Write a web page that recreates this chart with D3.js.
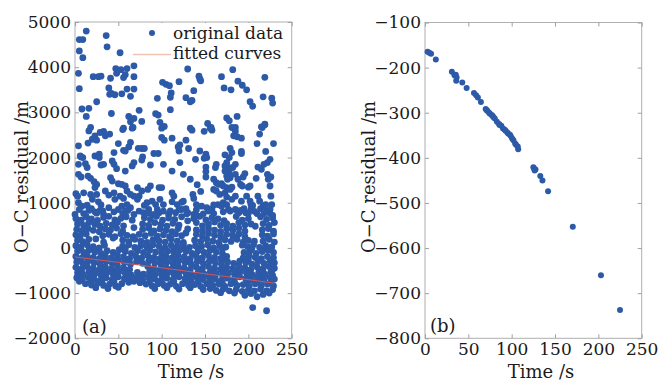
<!DOCTYPE html>
<html>
<head>
<meta charset="utf-8">
<script src="https://cdn.jsdelivr.net/npm/d3@7"></script>
<style>
  body { margin: 0; background: #fff; }
  svg text { font-family: "DejaVu Serif", serif; fill: #1a1a1a; }
</style>
</head>
<body>
<svg id="chart" width="662" height="382"></svg>
<script>
// ---- data ----
var xTicks = [0, 50, 100, 150, 200, 250];
var yTicksA = [-2000, -1000, 0, 1000, 2000, 3000, 4000, 5000];
var yTicksB = [-800, -700, -600, -500, -400, -300, -200, -100];

// panel (a): [time s, residual m]
var aHigh = [
  [13,4800],[36,4700],[90,4760],[5,4610],[9,4610],[37,4450],[5,4360],[52,4320],[9,4210],[68,4030],
  [47,3970],[53,3945],[60,3970],[4,3865],[48,3865],[58,3835],[21,3790],[27,3790],[30,3800],[41,3755],
  [56,3770],[68,3790],[101,3665],[105,3620],[109,3590],[120,3680],[5,3525],[39,3540],[60,3515],[68,3515],
  [42,3420],[46,3390],[40,3400],[54,3410],[111,3430],[110,3335],[64,3355],[95,3310],[25,3235],[8,3075],
  [16,3090],[74,3045],[110,3060],[42,2975],[93,2970],[96,2940],[13,2910],[62,2910],[68,2865],[77,2800],
  [64,2790],[98,2780],[103,2690],[18,2665],[56,2650],[67,2665],
  [130,3960],[182,3945],[143,3800],[145,3700],[169,3790],[188,3690],[193,3600],[198,3500],[219,3775],[172,3540],
  [180,3500],[137,3480],[128,3325],[133,3235],[135,3265],[202,3235],[205,3135],[217,3345],[227,3315],[228,3205],
  [175,2875],[178,2815],[187,2910],[153,2755],[157,2665],[219,2740],[216,2665],[133,2650],[181,2665],[144,3740]
];
var aMid = [
  [16,2590],[29,2555],[33,2580],[35,2480],[23,2480],[20,2405],[25,2385],[40,2520],[15,2320],[4,2260],
  [55,2620],[66,2650],[100,2650],[100,2445],[103,2385],[112,2430],[50,2310],[64,2335],[62,2235],[73,2205],
  [77,2200],[80,2200],[91,2090],[96,2090],[119,2235],[121,2280],[120,2145],[7,2015],[23,2035],[28,2075],
  [45,2110],[56,2160],[58,2145],[78,2015],[77,1945],[30,1835],[43,1925],[45,1850],[4,1850],[12,1865],
  [14,1780],[68,1890],[66,1815],[48,1755],[58,1700],[87,1835],[102,1850],[112,1700],[121,1890],[125,1630],
  [4,1630],[7,1570],[15,1590],[18,1540],[22,1465],[25,1405],[23,1335],[41,1555],[43,1480],[50,1420],
  [54,1405],[58,1370],[72,1335],[77,1260],[87,1370],[84,1295],[97,1335],[100,1335],[112,1220],[114,1145],
  [1,1200],[3,1145],[10,1220],[18,1185],[20,1075],[25,1185],[27,1020],[35,1260],[39,1170],[45,1220],
  [46,1075],[52,1145],[56,1095],[60,1260],[64,1185],[68,1145],[72,1075],[74,1145],[83,1000],[89,1035],
  [93,960],[98,1075],[102,960],[112,1020],[118,960],[123,1010],[4,1000],[8,925],[14,945],[16,830],
  [23,800],[29,830],[33,740],[39,890],[45,800],[50,850],[54,925],[58,815],[64,890],[68,740],
  [74,815],[79,780],[85,850],[91,740],[97,780],[102,815],[108,740],[116,780],[120,850],[0,740],
  [135,2605],[149,2580],[158,2605],[156,2650],[185,2665],[185,2580],[215,2680],[219,2725],[128,2385],[187,2460],
  [183,2480],[192,2430],[213,2520],[210,2310],[229,2310],[144,2145],[151,2075],[152,2000],[149,1985],[179,2205],
  [181,2110],[178,2000],[173,2060],[192,2135],[192,2090],[220,2135],[225,1960],[222,1890],[163,1850],[162,1780],
  [175,1890],[173,1815],[177,1780],[185,1850],[182,1780],[151,1790],[151,1690],[151,1570],[211,1790],[215,1740],
  [218,1850],[222,1630],[226,1570],[223,1520],[225,1370],[209,1540],[173,1700],[178,1665],[175,1590],[179,1555],
  [176,1520],[185,1630],[188,1520],[196,1645],[194,1570],[160,1520],[163,1445],[166,1405],[169,1420],[171,1370],
  [175,1335],[179,1295],[181,1345],[191,1405],[193,1370],[200,1345],[202,1370],[160,1295],[163,1260],[167,1185],
  [173,1220],[175,1125],[136,1185],[137,1095],[125,1035],[181,1075],[185,1145],[192,1035],[198,1145],[202,1035],
  [211,1145],[213,1035],[217,925],[226,1145],[227,960],[225,850],[146,925],[152,890],[154,815],[148,755],
  [165,960],[169,925],[171,1000],[175,960],[177,850],[179,815],[171,800],[185,850],[189,780],[195,870],
  [197,780],[203,960],[203,850],[207,810],[210,760],[225,760],[228,720],[123,850],[129,755],[137,740],
  [142,705],[131,2200],[139,1960],[133,1520],[141,1400],[145,1250],[6,2035],[9,2000],[28,2000],[33,1850],
  [5,850],[19,870],[32,820],[61,830],[95,850],[110,820],[128,870],[140,840],[158,860],[191,830],[214,870],[221,820],
  [10,760],[25,770],[55,760],[85,770],[130,780],[160,760],[200,770],[218,760],
  [30,950],[60,960],[80,940],[140,960],[160,950],[205,940],[220,960]
];
var aDense = [
  [1,650],[7,615],[13,690],[19,640],[26,610],[33,675],[39,700],[46,620],[53,655],[59,690],[66,615],[80,670],
  [87,630],[94,700],[101,615],[108,660],[115,630],[123,690],[130,600],[137,650],[144,700],[151,620],[158,670],
  [165,640],[172,605],[186,695],[193,615],[200,650],[214,690],[221,630],[228,660],
  [3,530],[10,500],[16,560],[23,520],[29,480],[36,545],[43,510],[49,570],[56,490],[78,530],[85,500],[92,560],
  [99,520],[106,480],[113,545],[120,505],[140,560],[147,490],[154,530],[161,575],[168,500],[175,540],[182,480],
  [189,560],[196,510],[203,530],[217,540],[224,500],[230,560],[68,450],[208,480],
  [2,410],[8,380],[15,430],[21,390],[28,360],[35,420],[41,395],[48,440],[55,370],[78,410],[85,440],[91,375],
  [98,420],[105,390],[112,360],[119,430],[140,400],[147,370],[154,430],[161,395],[168,360],[175,425],[182,390],
  [189,440],[196,370],[216,400],[223,430],[229,370],[130,420],[128,330],
  [1,290],[6,260],[13,310],[32,270],[39,300],[46,250],[53,315],[60,280],[67,250],[74,300],[81,270],[88,320],
  [95,260],[102,290],[109,250],[116,310],[123,270],[140,300],[147,260],[154,320],[161,280],[168,250],[175,300],
  [182,270],[189,310],[196,250],[216,290],[222,260],[229,310],[24,200],[44,220],[207,150],
  [3,170],[9,140],[16,190],[33,130],[55,175],[62,140],[69,190],[76,150],[83,120],[90,180],[97,155],[104,130],
  [111,195],[118,150],[125,120],[138,170],[145,140],[152,195],[159,150],[166,120],[173,180],[180,145],[187,190],
  [194,130],[200,165],[217,150],[224,190],[230,130],
  [1,50],[7,20],[14,70],[21,30],[28,0],[34,60],[55,40],[62,70],[69,10],[76,50],[83,20],[90,70],[97,40],
  [104,0],[111,60],[118,30],[125,70],[132,10],[139,50],[146,30],[153,70],[160,0],[167,45],[174,20],[193,60],
  [199,30],[206,70],[213,10],[220,50],[227,20],
  [5,-15],[18,-25],[58,-20],[72,-30],[86,-15],[100,-25],[114,-10],[128,-30],[142,-15],[156,-25],[170,-20],
  [204,-15],[218,-25],
  [3,-70],[10,-100],[16,-50],[23,-90],[30,-120],[37,-60],[44,-100],[51,-40],[58,-80],[65,-120],[72,-60],
  [79,-100],[86,-50],[93,-90],[100,-120],[107,-70],[114,-100],[121,-40],[128,-80],[135,-120],[142,-60],
  [149,-100],[156,-50],[163,-90],[170,-120],[195,-100],[202,-60],[209,-120],[216,-80],[223,-50],[229,-100],
  [1,-190],[8,-220],[14,-170],[21,-210],[28,-240],[35,-180],[42,-220],[49,-160],[56,-200],[63,-240],[70,-180],
  [77,-220],[84,-170],[91,-210],[98,-240],[105,-190],[112,-220],[119,-160],[126,-200],[133,-240],[140,-180],
  [147,-220],[154,-170],[161,-210],[168,-240],[175,-190],[194,-220],[201,-170],[208,-210],[215,-240],[222,-190],
  [229,-220],
  [5,-255],[19,-265],[33,-250],[47,-270],[61,-255],[75,-265],[89,-250],[103,-270],[117,-255],[131,-265],
  [145,-250],[159,-270],[173,-255],[200,-260],[214,-250],[227,-270],
  [2,-310],[9,-340],[15,-290],[22,-330],[29,-360],[36,-300],[43,-340],[50,-280],[57,-320],[64,-360],[71,-300],
  [78,-340],[85,-290],[92,-330],[99,-360],[106,-310],[113,-340],[120,-280],[127,-320],[134,-360],[141,-300],
  [148,-340],[155,-290],[162,-330],[169,-360],[176,-310],[183,-340],[190,-290],[197,-320],[204,-360],[211,-300],
  [218,-340],[225,-290],[230,-330],
  [1,-430],[8,-460],[14,-410],[21,-450],[28,-480],[35,-420],[42,-460],[49,-400],[56,-440],[63,-480],[84,-410],
  [91,-450],[98,-480],[105,-430],[112,-460],[119,-400],[126,-440],[133,-480],[140,-420],[147,-460],[154,-410],
  [161,-450],[168,-480],[175,-430],[182,-460],[189,-400],[196,-440],[203,-480],[210,-420],[217,-460],[224,-410],
  [230,-450],
  [5,-495],[18,-505],[32,-490],[46,-510],[60,-500],[88,-490],[102,-510],[116,-495],[130,-505],[144,-490],
  [158,-510],[172,-500],[186,-495],[200,-505],[214,-490],[227,-505],
  [3,-550],[9,-580],[16,-530],[23,-570],[30,-600],[37,-540],[44,-580],[51,-520],[58,-560],[65,-600],[72,-540],
  [79,-580],[86,-530],[93,-570],[100,-600],[107,-550],[114,-580],[121,-520],[128,-560],[135,-600],[142,-540],
  [149,-580],[156,-530],[163,-570],[170,-600],[177,-550],[184,-580],[191,-520],[198,-560],[205,-600],[212,-540],
  [219,-580],[226,-530],
  [5,-610],[19,-625],[33,-615],[47,-630],[61,-610],[75,-625],[89,-615],[103,-630],[117,-610],[131,-625],
  [145,-615],[159,-630],[173,-610],[187,-625],[201,-615],[215,-630],[228,-610],
  [2,-660],[8,-700],[15,-650],[22,-690],[29,-720],[36,-660],[43,-700],[50,-640],[57,-680],[64,-720],[71,-660],
  [78,-700],[85,-650],[92,-690],[99,-720],[106,-670],[113,-700],[120,-640],[127,-680],[134,-720],[141,-660],
  [148,-700],[155,-650],[162,-690],[169,-720],[176,-670],[183,-700],[190,-640],[197,-680],[204,-720],[211,-660],
  [218,-700],[225,-650],[230,-690],
  [5,-740],[18,-750],[31,-760],[45,-745],[86,-750],[100,-760],[114,-745],[128,-755],[142,-760],[156,-745],
  [170,-770],[184,-750],[198,-760],[212,-745],[226,-760],
  [12,-790],[19,-820],[26,-780],[33,-830],[40,-800],[47,-840],[54,-790],[62,-760],[68,-740],[75,-770],[82,-800],
  [89,-840],[96,-790],[103,-830],[110,-800],[117,-850],[124,-790],[131,-830],[138,-810],[145,-850],[152,-790],
  [159,-830],[166,-800],[173,-850],[180,-790],[187,-830],[194,-810],[201,-850],[208,-790],[215,-830],[222,-800],
  [229,-840],
  [24,-880],[38,-900],[50,-870],[92,-900],[106,-880],[120,-910],[133,-880],[148,-920],[156,-900],[163,-940],
  [171,-910],[178,-950],[186,-920],[193,-960],[200,-930],[207,-950],[214,-910],[221,-950],[228,-920],
  [168,-990],[184,-1000],[196,-1050],[203,-1010],[210,-1080],[217,-1030],[224,-1000]
];
var aOutliers = [[205,-1320],[221,-1390]];

// fitted curve in (a)
var fitT = [0, 100, 230];
var fitV = [-200, -440, -780];

// panel (b)
var bT = [3,5,7,12.5,31,34,35.5,36.5,36,43,48,56.5,59,61,64.5,70,71,72,74,75,77,78,79,80.5,83,85.5,86,88,90,92,93,
          95,96,98,99,100.5,102,104,105,107,107.5,125,126,127.5,126.5,133,135.5,142,170.5,203,225];
var bV = [-165,-167,-169,-182,-209,-217,-216,-222,-229,-233,-245,-256,-261,-266,-276,-292,-294,-296,-300,-302,-305,-307,-310,-313,-320,-325,-327,-329,-335,-338,-340,
          -344,-346,-349,-352,-357,-361,-368,-371,-375,-381,-421,-424,-426,-428,-440,-450,-474,-553,-660,-737];

// ---- drawing ----
var svg = d3.select("#chart");
var dotColor = "#2c5aa8";
var fmt = d3.format("d");

function panel(xr, yr, yDomain, yTicks) {
  var x = d3.scaleLinear().domain([0, 250]).range(xr);
  var y = d3.scaleLinear().domain(yDomain).range(yr);
  var g = svg.append("g");

  g.append("rect")
    .attr("x", xr[0]).attr("y", yr[1])
    .attr("width", xr[1] - xr[0]).attr("height", yr[0] - yr[1])
    .attr("fill", "none").attr("stroke", "#b0b0b0");

  var bottom = g.append("g").attr("transform", "translate(0," + yr[0] + ")")
    .call(d3.axisBottom(x).tickValues(xTicks).tickSize(-4).tickPadding(5).tickFormat(fmt));
  var left = g.append("g").attr("transform", "translate(" + xr[0] + ",0)")
    .call(d3.axisLeft(y).tickValues(yTicks).tickSize(-4).tickPadding(4).tickFormat(fmt));
  var top = g.append("g").attr("transform", "translate(0," + yr[1] + ")")
    .call(d3.axisTop(x).tickValues(xTicks).tickSize(-4).tickFormat(""));
  var right = g.append("g").attr("transform", "translate(" + xr[1] + ",0)")
    .call(d3.axisRight(y).tickValues(yTicks).tickSize(-4).tickFormat(""));

  [bottom, left, top, right].forEach(function(a){
    a.select(".domain").remove();
    a.selectAll(".tick line").attr("stroke", "#a0a0a0");
    a.selectAll("text").style("font-family", "DejaVu Serif").style("font-size", "17px").attr("fill", "#1a1a1a");
  });

  return {g: g, x: x, y: y};
}

// (a)
var pa = panel([75, 291.7], [338.3, 22], [-2000, 5000], yTicksA);
pa.g.selectAll("circle.pt")
  .data(aHigh.concat(aMid, aDense, aOutliers))
  .enter().append("circle")
    .attr("class", "pt")
    .attr("cx", function(d){ return pa.x(d[0]); })
    .attr("cy", function(d){ return pa.y(d[1]); })
    .attr("r", 3.4)
    .attr("fill", dotColor);

var fitLine = d3.line()
  .x(function(d, i){ return pa.x(fitT[i]); })
  .y(function(d){ return pa.y(d); });
pa.g.append("path")
  .attr("d", fitLine(fitV))
  .attr("fill", "none")
  .attr("stroke", "#d9534f")
  .attr("stroke-width", 1);

// legend
var lg = pa.g.append("g");
lg.append("rect").attr("x", 131).attr("y", 23).attr("width", 160).attr("height", 39).attr("fill", "#fff");
lg.append("circle").attr("cx", 152).attr("cy", 33).attr("r", 3).attr("fill", dotColor);
lg.append("line").attr("x1", 133).attr("x2", 171).attr("y1", 54.5).attr("y2", 54.5)
  .attr("stroke", "#f3c2b2").attr("stroke-width", 1.5);
lg.append("text").attr("x", 173).attr("y", 38.5).style("font-size", "17px").text("original data");
lg.append("text").attr("x", 173).attr("y", 58.5).style("font-size", "17px").text("fitted curves");

pa.g.append("text").attr("x", 82).attr("y", 333).style("font-size", "18px").text("(a)");
pa.g.append("text").attr("x", 191).attr("y", 378).attr("text-anchor", "middle").style("font-size", "18px").text("Time /s");
pa.g.append("text").attr("transform", "translate(28,177) rotate(-90)")
  .attr("text-anchor", "middle").style("font-size", "18px").text("O\u2212C residual /m");

// (b)
var pb = panel([425, 641.7], [338.3, 22.5], [-800, -100], yTicksB);
pb.g.selectAll("circle.pt")
  .data(bT)
  .enter().append("circle")
    .attr("class", "pt")
    .attr("cx", function(d){ return pb.x(d); })
    .attr("cy", function(d, i){ return pb.y(bV[i]); })
    .attr("r", 3)
    .attr("fill", dotColor);

pb.g.append("text").attr("x", 430).attr("y", 332).style("font-size", "18px").text("(b)");
pb.g.append("text").attr("x", 541).attr("y", 378).attr("text-anchor", "middle").style("font-size", "18px").text("Time /s");
pb.g.append("text").attr("transform", "translate(375,177) rotate(-90)")
  .attr("text-anchor", "middle").style("font-size", "18px").text("O\u2212C residual /m");
</script>
</body>
</html>
